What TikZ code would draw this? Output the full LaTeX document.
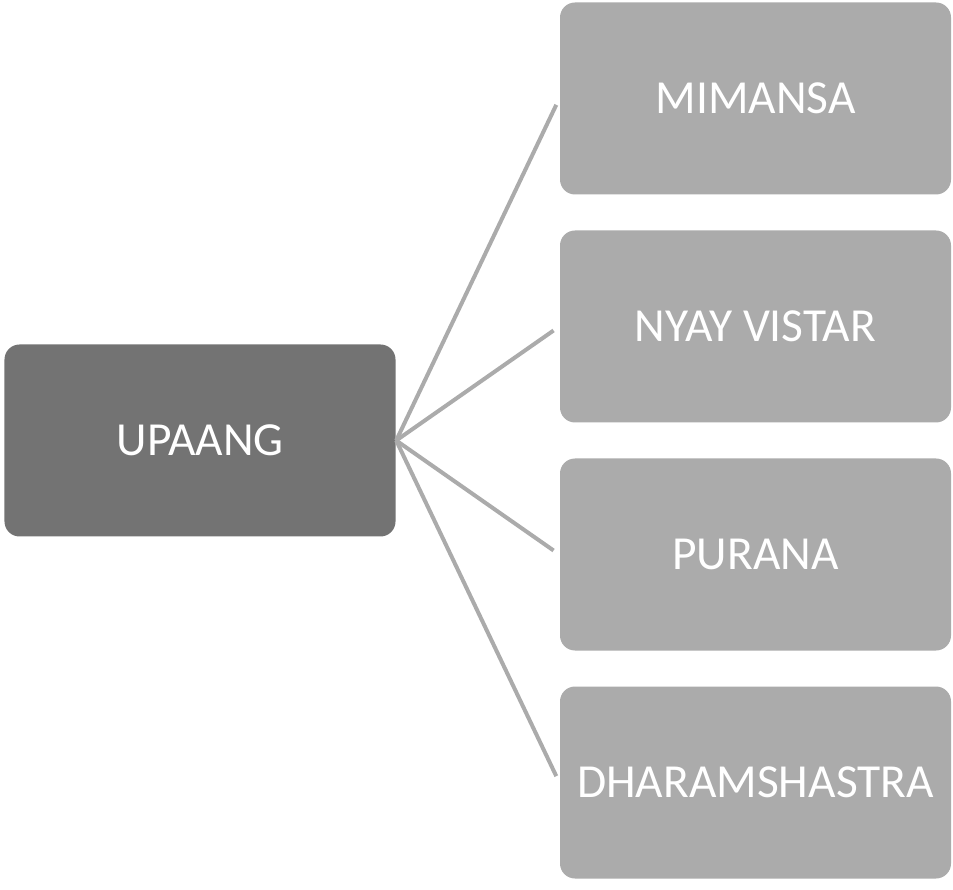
\documentclass[tikz,border=0pt]{standalone}
\usepackage{fontspec}
\setmainfont{Carlito}
\usepackage{tikz}
\usetikzlibrary{positioning}
\definecolor{darkbox}{HTML}{737373}
\definecolor{lightbox}{HTML}{ABABAB}
\tikzset{basic/.style={fill,rounded corners=0.15cm,text=white,minimum width=3.91cm,minimum height=1.92cm,font=\fontsize{13.5}{16}\selectfont}}

\begin{document}
\begin{tikzpicture}
		\tikzstyle{root}=[basic,fill=darkbox]
		\tikzstyle{branch}=[basic,fill=lightbox]
		\tikzstyle{link}=[draw=lightbox,line width=0.04cm,shorten >=0.07cm]

		\useasboundingbox (0,0) rectangle (9.53,8.89);

		\node[root](upaang) at (2.00,4.485){UPAANG};

		\node[branch](mimansa) at (7.555,7.905){MIMANSA};
		\node[branch](nyay) at (7.555,5.625){NYAY VISTAR};
		\node[branch](purana) at (7.555,3.345){PURANA};
		\node[branch](dharam) at (7.555,1.065){DHARAMSHASTRA};

		\draw[link] (upaang.east) -- (mimansa.west);
		\draw[link] (upaang.east) -- (nyay.west);
		\draw[link] (upaang.east) -- (purana.west);
		\draw[link] (upaang.east) -- (dharam.west);
	\end{tikzpicture}
\end{document}
